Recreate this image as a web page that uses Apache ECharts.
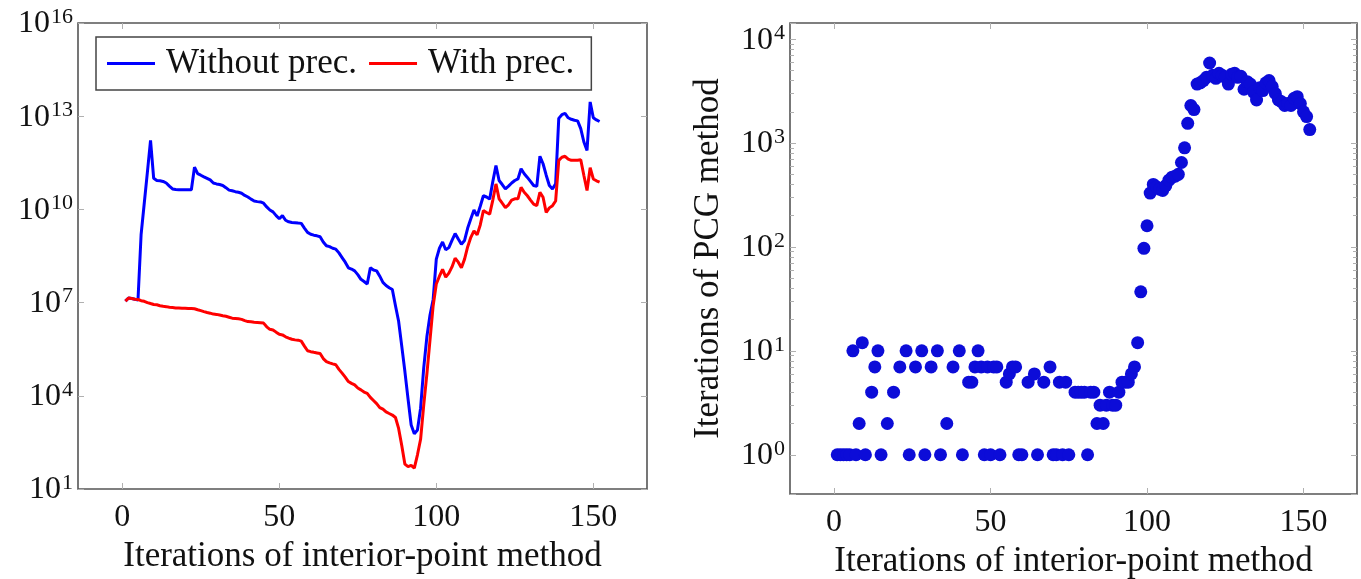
<!DOCTYPE html>
<html><head><meta charset="utf-8">
<script src="https://cdn.jsdelivr.net/npm/echarts@6/dist/echarts.min.js"></script>
<style>html,body{margin:0;padding:0;background:#fff}#c{width:1361px;height:579px}</style>
</head><body><div id="c"></div>
<script>
// ---------- data ----------
const iterations = Array.from({length: 152}, (_, k) => k + 1);
const withoutPrec = [
 1.12e7, 1.41e7, 1.35e7, 1.29e7, 1.2e7, 1.58e9, 1.58e10, 1.58e11, 1.66e12, 1.0e11,
 8.51e10, 8.32e10, 7.94e10, 7.08e10, 5.62e10, 4.57e10, 4.4e10, 4.3e10, 4.3e10, 4.3e10,
 4.3e10, 4.3e10, 2.29e11, 1.41e11, 1.26e11, 1.12e11, 1.0e11, 8.91e10, 7.08e10, 6.61e10,
 6.31e10, 5.89e10, 5.01e10, 4.17e10, 3.98e10, 3.72e10, 3.55e10, 3.31e10, 2.82e10, 2.51e10,
 2.14e10, 1.86e10, 1.78e10, 1.74e10, 1.58e10, 1.2e10, 9.55e9, 8.32e9, 6.31e9, 5.01e9,
 6.31e9, 4.47e9, 3.98e9, 3.8e9, 3.72e9, 3.63e9, 3.55e9, 2.51e9, 1.82e9, 1.58e9,
 1.48e9, 1.41e9, 1.32e9, 8.91e8, 6.76e8, 6.31e8, 5.62e8, 5.25e8, 3.98e8, 2.82e8,
 2.0e8, 1.32e8, 1.2e8, 1.05e8, 7.94e7, 5.62e7, 4.79e7, 3.98e7, 1.32e8, 1.12e8,
 1.05e8, 7.08e7, 4.47e7, 3.55e7, 3.02e7, 2.63e7, 7.94e6, 2.51e6, 3.98e5, 6.03e4,
 7.94e3, 1.15e3, 603, 794, 3.98e3, 7.94e4, 7.94e5, 3.98e6, 1.26e7, 2.51e8,
 5.62e8, 8.91e8, 5.01e8, 5.89e8, 1.0e9, 1.66e9, 1.12e9, 7.59e8, 1.0e9, 2.51e9,
 5.01e9, 9.55e9, 6.17e9, 1.26e10, 2.75e10, 2.51e10, 2.14e10, 7.94e10, 2.57e11, 8.51e10,
 6.31e10, 4.57e10, 5.62e10, 7.08e10, 8.51e10, 9.55e10, 2.04e11, 1.41e11, 1.07e11, 7.94e10,
 5.89e10, 5.5e10, 5.13e11, 2.95e11, 1.26e11, 5.89e10, 4.57e10, 6.61e10, 8.51e12, 1.12e13,
 1.23e13, 8.91e12, 7.94e12, 7.41e12, 7.08e12, 3.98e12, 1.48e12, 7.94e11, 2.88e13, 8.91e12,
 7.59e12, 6.76e12
];
const withPrec = [
 1.12e7, 1.41e7, 1.35e7, 1.29e7, 1.26e7, 1.15e7, 1.1e7, 1.0e7, 9.33e6, 8.71e6,
 8.51e6, 7.94e6, 7.59e6, 7.41e6, 7.08e6, 6.92e6, 6.76e6, 6.76e6, 6.61e6, 6.61e6,
 6.46e6, 6.46e6, 6.31e6, 5.89e6, 5.5e6, 5.13e6, 4.79e6, 4.57e6, 4.27e6, 4.17e6,
 3.98e6, 3.8e6, 3.63e6, 3.39e6, 3.16e6, 3.09e6, 3.02e6, 2.88e6, 2.63e6, 2.45e6,
 2.4e6, 2.34e6, 2.29e6, 2.24e6, 2.19e6, 1.66e6, 1.38e6, 1.32e6, 1.12e6, 9.55e5,
 9.12e5, 7.94e5, 7.24e5, 6.61e5, 6.31e5, 6.17e5, 5.75e5, 3.98e5, 2.82e5, 2.63e5,
 2.51e5, 2.4e5, 2.29e5, 1.58e5, 1.26e5, 1.15e5, 1.07e5, 1.0e5, 7.08e4, 5.37e4,
 3.98e4, 2.88e4, 2.51e4, 2.24e4, 1.78e4, 1.55e4, 1.32e4, 1.2e4, 8.91e3, 7.08e3,
 5.62e3, 4.17e3, 3.72e3, 3.02e3, 2.69e3, 2.4e3, 2.0e3, 891, 251, 63,
 52.5, 57.5, 46.8, 126, 398, 5.01e3, 5.01e4, 6.31e5, 7.94e6, 3.98e7,
 7.08e7, 1.17e8, 6.61e7, 8.91e7, 1.41e8, 2.69e8, 2.0e8, 1.32e8, 2.51e8, 6.31e8,
 1.26e9, 2.04e9, 1.51e9, 3.16e9, 9.12e9, 7.94e9, 7.08e9, 2.0e10, 6.61e10, 2.19e10,
 1.58e10, 1.15e10, 1.41e10, 2.0e10, 2.19e10, 2.19e10, 5.13e10, 3.55e10, 2.75e10, 2.0e10,
 1.48e10, 1.32e10, 3.55e10, 2.45e10, 7.94e9, 1.12e10, 1.32e10, 1.86e10, 3.8e11, 4.79e11,
 5.13e11, 4.17e11, 3.8e11, 3.8e11, 3.8e11, 3.98e11, 1.23e11, 4.07e10, 2.19e11, 9.55e10,
 8.32e10, 7.59e10
];
// PCG iterations per interior-point iteration (null = 0 iterations, not drawable on log axis)
const pcgIterations = [
 1, 1, 1, 1, 1, 10, 1, 2, 12, 1,
 null, 4, 7, 10, 1, null, 2, null, 4, null,
 7, null, 10, 1, null, 7, null, 10, 1, null,
 7, null, 10, 1, null, 2, null, 7, null, 10,
 1, null, 5, 5, 7, 10, 7, 1, 7, 1,
 7, 7, 1, null, 5, 6, 7, 7, 1, 1,
 null, 5, null, 6, 1, null, 5, null, 7, 1,
 1, 5, 1, 5, 1, null, 4, 4, 4, 4,
 1, 4, 4, 2, 3, 2, 3, 4, 3, 3,
 4, 5, 5, 5, 6, 7, 12, 37, 97, 160,
 330, 400, 380, 360, 350, 390, 440, 470, 480, 500,
 650, 900, 1550, 2300, 2100, 3700, 3800, 4000, 4300, 5900,
 4500, 4200, 4700, 4500, 4300, 3700, 4600, 4700, 4300, 4400,
 3300, 3900, 3700, 3100, 2600, 3400, 3200, 3800, 4000, 3500,
 3000, 2600, 2500, 2300, 2400, 2300, 2700, 2800, 2400, 2000,
 1800, 1350
];
const seriesNames = ['Without prec.', 'With prec.'];
const xTickValues = [0, 50, 100, 150];
const pcgMinorTicks = [2, 3, 4, 5, 6, 7, 8, 9, 20, 30, 40, 50, 60, 70, 80, 90,
  200, 300, 400, 500, 600, 700, 800, 900, 2000, 3000, 4000, 5000, 6000, 7000, 8000, 9000];
const xTitle = 'Iterations of interior-point method';
const yTitleRight = 'Iterations of PCG method';

// ---------- helpers ----------
const FONT = "'Liberation Serif', 'Times New Roman', serif";
const pairs = (ys) => iterations.map((x, k) => [x, ys[k]]);
function powLabel(v) {
  const e = Math.log10(v);
  const r = Math.round(e);
  if (Math.abs(e - r) > 1e-6) return '';
  return '{b|10}{s|' + r + '}';
}
const rich = {
  b: {fontFamily: FONT, fontSize: 32, color: '#111', verticalAlign: 'bottom', lineHeight: 34},
  s: {fontFamily: FONT, fontSize: 22, color: '#111', verticalAlign: 'top', lineHeight: 34, padding: [0, 0, 14, 1]}
};
const tickStyle = {show: true, inside: true, length: 6, lineStyle: {color: '#b0b0b0', width: 1}};
const noLine = {show: false, onZero: false};

function xAxes(gridIndex) {
  const base = {
    type: 'value', gridIndex: gridIndex, min: -14.1, max: 167.1,
    axisLine: noLine, splitLine: {show: false},
  };
  return [
    Object.assign({}, base, {
      position: 'bottom',
      axisTick: Object.assign({customValues: xTickValues}, tickStyle),
      axisLabel: {customValues: xTickValues, margin: 13, fontFamily: FONT, fontSize: 32, color: '#111'},
      name: xTitle, nameLocation: 'middle', nameGap: 48,
      nameTextStyle: {fontFamily: FONT, fontSize: 35, color: '#111'}
    }),
    Object.assign({}, base, {
      position: 'top',
      axisTick: Object.assign({customValues: xTickValues}, tickStyle),
      axisLabel: {show: false}
    })
  ];
}
function logAxis(gridIndex, pos, min, max, extra) {
  return Object.assign({
    type: 'log', gridIndex: gridIndex, position: pos, min: min, max: max, logBase: 10,
    axisLine: noLine, splitLine: {show: false}, axisTick: tickStyle, axisLabel: {show: false}
  }, extra || {});
}
const minorTick = Object.assign({}, tickStyle, {customValues: pcgMinorTicks, length: 4});

const option = {
  animation: false,
  backgroundColor: '#fff',
  grid: [
    {left: 78, top: 23, width: 569, height: 466, show: true, borderColor: '#555', borderWidth: 1.6, backgroundColor: 'transparent', containLabel: false, outerBoundsMode: 'none'},
    {left: 790, top: 23, width: 567, height: 471, show: true, borderColor: '#555', borderWidth: 1.6, backgroundColor: 'transparent', containLabel: false, outerBoundsMode: 'none'}
  ],
  legend: {
    left: 96, top: 37, orient: 'horizontal',
    data: seriesNames,
    icon: 'rect', itemWidth: 48, itemHeight: 3, itemGap: 12,
    padding: [9, 17, 9, 11],
    borderColor: '#444', borderWidth: 1.5, borderRadius: 0, backgroundColor: '#fff',
    textStyle: {fontFamily: FONT, fontSize: 35, color: '#111', padding: [0, 0, 0, 6]}
  },
  xAxis: [].concat(xAxes(0), xAxes(1)),
  yAxis: [
    logAxis(0, 'left', 10, 1e16, {interval: 3,
      axisLabel: {formatter: powLabel, rich: rich, margin: 5}}),
    logAxis(0, 'right', 10, 1e16, {interval: 3}),
    logAxis(1, 'left', 0.419, 14320, {
      axisLabel: {formatter: powLabel, rich: rich, margin: 5},
      name: yTitleRight, nameLocation: 'middle', nameGap: 64, nameRotate: 90,
      nameTextStyle: {fontFamily: FONT, fontSize: 35, color: '#111'}}),
    logAxis(1, 'right', 0.419, 14320),
    logAxis(1, 'left', 0.419, 14320, {axisTick: minorTick}),
    logAxis(1, 'right', 0.419, 14320, {axisTick: minorTick})
  ],
  series: [
    {name: seriesNames[0], type: 'line', xAxisIndex: 0, yAxisIndex: 0, data: pairs(withoutPrec),
     symbol: 'none', showSymbol: false, lineStyle: {color: '#0000ff', width: 3}, itemStyle: {color: '#0000ff'}, z: 3},
    {name: seriesNames[1], type: 'line', xAxisIndex: 0, yAxisIndex: 0, data: pairs(withPrec),
     symbol: 'none', showSymbol: false, lineStyle: {color: '#ff0000', width: 3}, itemStyle: {color: '#ff0000'}, z: 4},
    {name: 'PCG', type: 'scatter', xAxisIndex: 2, yAxisIndex: 2, data: pairs(pcgIterations),
     symbol: 'circle', symbolSize: 13, itemStyle: {color: '#0c0cd8', opacity: 1}, z: 3}
  ]
};
const chart = echarts.init(document.getElementById('c'), null, {renderer: 'canvas'});
chart.setOption(option);
</script>
</body></html>
